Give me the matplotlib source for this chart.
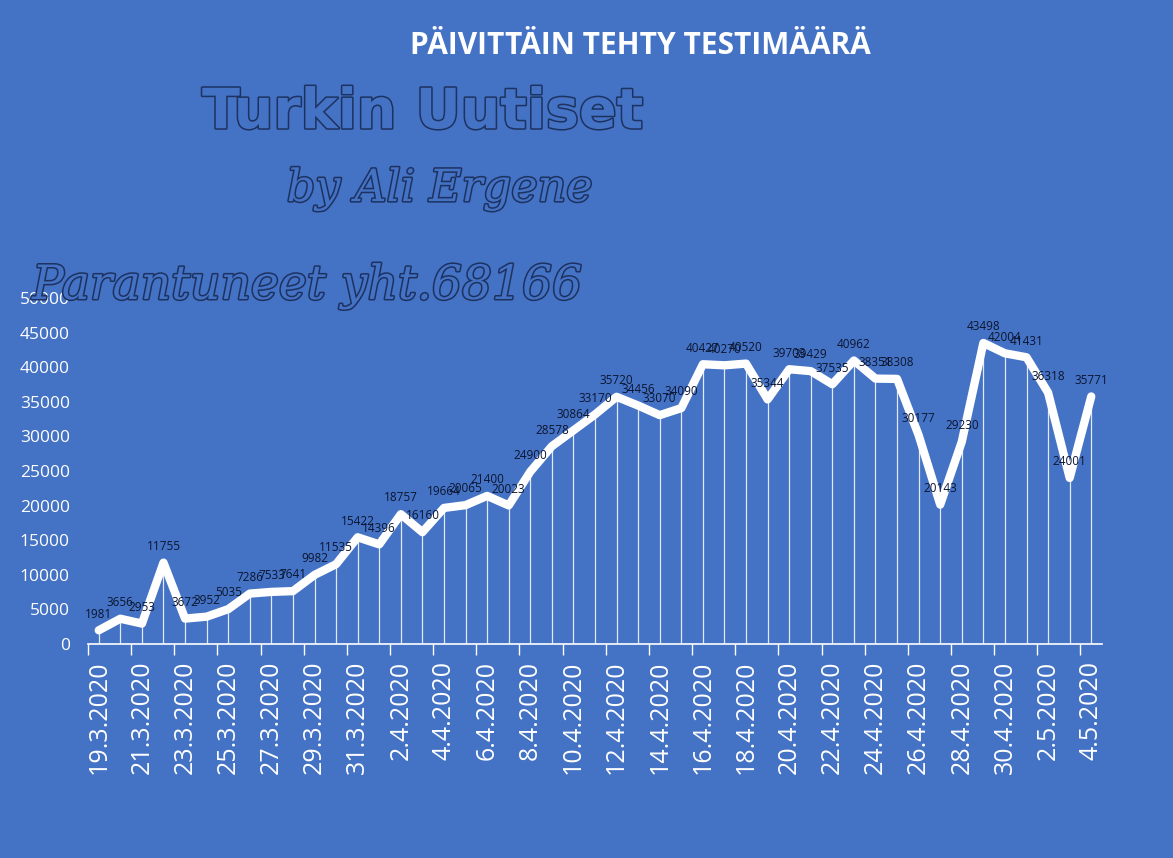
import matplotlib
matplotlib.use("Agg")
import matplotlib.pyplot as plt
import matplotlib.patheffects as pe
import numpy as np

dates = ["19.3.2020", "20.3.2020", "21.3.2020", "22.3.2020", "23.3.2020", "24.3.2020",
         "25.3.2020", "26.3.2020", "27.3.2020", "28.3.2020", "29.3.2020", "30.3.2020",
         "31.3.2020", "1.4.2020", "2.4.2020", "3.4.2020", "4.4.2020", "5.4.2020",
         "6.4.2020", "7.4.2020", "8.4.2020", "9.4.2020", "10.4.2020", "11.4.2020",
         "12.4.2020", "13.4.2020", "14.4.2020", "15.4.2020", "16.4.2020", "17.4.2020",
         "18.4.2020", "19.4.2020", "20.4.2020", "21.4.2020", "22.4.2020", "23.4.2020",
         "24.4.2020", "25.4.2020", "26.4.2020", "27.4.2020", "28.4.2020", "29.4.2020",
         "30.4.2020", "1.5.2020", "2.5.2020", "3.5.2020", "4.5.2020"]
tests = [1981, 3656, 2953, 11755, 3672, 3952, 5035, 7286, 7533, 7641, 9982, 11535,
         15422, 14396, 18757, 16160, 19664, 20065, 21400, 20023, 24900, 28578, 30864,
         33170, 35720, 34456, 33070, 34090, 40427, 40270, 40520, 35344, 39703, 39429,
         37535, 40962, 38351, 38308, 30177, 20143, 29230, 43498, 42004, 41431, 36318,
         24001, 35771]
yticks = [0, 5000, 10000, 15000, 20000, 25000, 30000, 35000, 40000, 45000, 50000]

title = "PÄIVITTÄIN TEHTY TESTIMÄÄRÄ"
wm1 = "Turkin Uutiset"
wm2 = "by Ali Ergene"
wm3 = "Parantuneet yht.68166"

BG = "#4472C4"
fig = plt.figure(figsize=(11.73, 8.58), dpi=100, facecolor=BG)
ax = fig.add_axes([0.075, 0.2494, 0.8645, 0.4033], facecolor=BG)

x = np.arange(len(tests))
ax.vlines(x, 0, tests, colors="white", linewidth=0.9, alpha=0.85, zorder=2)
ax.plot(x, tests, color="white", linewidth=6, solid_joinstyle="round",
        solid_capstyle="round", zorder=3)
for xi, v in zip(x, tests):
    ax.annotate(str(v), (xi, v), xytext=(0, 7), textcoords="offset points",
                ha="center", va="bottom", fontsize=8.5, color="#0b1530",
                family="Open Sans", zorder=4)

ax.set_xlim(-0.5, len(tests) - 0.5)
ax.set_ylim(0, 50000)
ax.set_yticks(yticks)
ax.set_yticklabels([str(t) for t in yticks], color="white", fontsize=12.5,
                   family="Open Sans")
ax.tick_params(axis="y", length=0, pad=13)
ax.set_xticks(x[::2])
ax.set_xticklabels(dates[::2], rotation=90, color="white", fontsize=18,
                   family="Open Sans")
ax.tick_params(axis="x", which="major", length=0, pad=12)
ax.set_xticks(np.arange(-0.5, len(tests), 2), minor=True)
ax.tick_params(axis="x", which="minor", length=8, color="white", width=1)
for s in ["top", "right", "left"]:
    ax.spines[s].set_visible(False)
ax.spines["bottom"].set_color("white")
ax.spines["bottom"].set_linewidth(1.2)

fig.text(0.546, 0.946, title, ha="center", va="center", color="white",
         fontsize=21.5, fontweight="bold", family="Open Sans")

emb = [pe.withStroke(linewidth=2.2, foreground="#1d3260")]
fig.text(0.36, 0.868, wm1, ha="center", va="center", color=BG, fontsize=40,
         fontweight="heavy", family="DejaVu Sans", path_effects=emb, zorder=10)
fig.text(0.375, 0.78, wm2, ha="center", va="center", color=BG, fontsize=32,
         style="italic", family="DejaVu Serif", path_effects=emb, zorder=10)
fig.text(0.262, 0.666, wm3, ha="center", va="center", color=BG, fontsize=34,
         style="italic", family="DejaVu Serif", path_effects=emb, zorder=10)

fig.savefig("out.png", dpi=100, facecolor=BG)
